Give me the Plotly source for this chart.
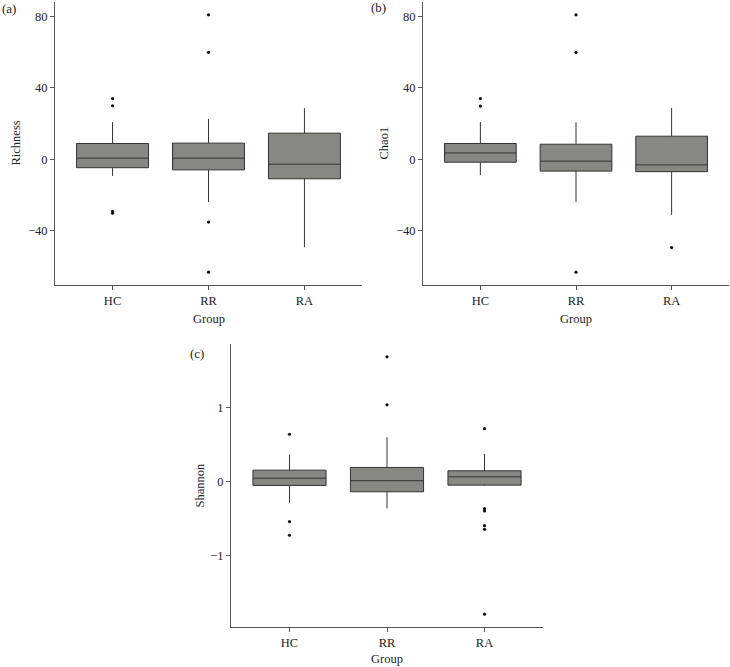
import plotly.graph_objects as go

groups = ["HC", "RR", "RA"]

# Panel (a) Richness
rich_q1 = [-4.8, -6.0, -11.0]
rich_med = [0.6, 0.6, -2.8]
rich_q3 = [8.8, 9.0, 14.6]
rich_lo = [-9.4, -24.0, -49.4]
rich_hi = [20.8, 22.6, 28.6]
rich_out_x = ["HC", "HC", "HC", "HC", "RR", "RR", "RR", "RR"]
rich_out_y = [34.0, 30.0, -29.3, -30.3, 81.0, 60.0, -35.3, -63.4]

# Panel (b) Chao1
chao_q1 = [-1.7, -6.7, -7.0]
chao_med = [3.5, -1.1, -3.2]
chao_q3 = [8.8, 8.4, 12.9]
chao_lo = [-9.0, -24.0, -31.3]
chao_hi = [20.9, 20.7, 28.8]
chao_out_x = ["HC", "HC", "RR", "RR", "RR", "RA"]
chao_out_y = [34.0, 29.8, 81.0, 60.0, -63.4, -49.6]

# Panel (c) Shannon
shan_q1 = [-0.054, -0.14, -0.05]
shan_med = [0.045, 0.01, 0.063]
shan_q3 = [0.153, 0.19, 0.145]
shan_lo = [-0.29, -0.365, -0.06]
shan_hi = [0.365, 0.60, 0.374]
shan_out_x = ["HC", "HC", "HC", "RR", "RR", "RA", "RA", "RA", "RA", "RA", "RA"]
shan_out_y = [0.64, -0.545, -0.73, 1.69, 1.04, 0.716, -0.37, -0.40, -0.60, -0.65, -1.80]

ticks_ab = [-40, 0, 40, 80]
ticks_c = [-1, 0, 1]

W, H = 730, 667
FILL = "#878784"
LINE = "#333333"
AXC = "#555555"
FONT = "Liberation Serif"

panels = [
    (rich_q1, rich_med, rich_q3, rich_lo, rich_hi, rich_out_x, rich_out_y, ticks_ab, ""),
    (chao_q1, chao_med, chao_q3, chao_lo, chao_hi, chao_out_x, chao_out_y, ticks_ab, "2"),
    (shan_q1, shan_med, shan_q3, shan_lo, shan_hi, shan_out_x, shan_out_y, ticks_c, "3"),
]

fig = go.Figure()
ranges = []
for q1, med, q3, lo, hi, ox, oy, tv, sfx in panels:
    fig.add_trace(go.Box(
        x=groups, q1=q1, median=med, q3=q3, lowerfence=lo, upperfence=hi,
        width=0.75, whiskerwidth=0, fillcolor=FILL,
        line=dict(color=LINE, width=1), boxpoints=False,
        xaxis="x" + sfx, yaxis="y" + sfx, showlegend=False,
    ))
    fig.add_trace(go.Scatter(
        x=ox, y=oy, mode="markers",
        marker=dict(color="#111111", size=3.2),
        xaxis="x" + sfx, yaxis="y" + sfx, showlegend=False,
    ))
    vmin = min(min(lo), min(oy))
    vmax = max(max(hi), max(oy))
    pad = (vmax - vmin) * 0.05
    ranges.append([vmin - pad, vmax + pad])

def px_x(a, b):
    return [a / W, b / W]

def px_y(top, bottom):
    return [1 - bottom / H, 1 - top / H]

common_x = dict(
    type="category", categoryorder="array", categoryarray=groups,
    range=[-0.6, 2.6], showline=True, linecolor=AXC, linewidth=1,
    ticks="outside", ticklen=4, tickcolor=AXC, showgrid=False, zeroline=False,
    tickfont=dict(family=FONT, size=12.5, color="#222222"),
)
common_y = dict(
    showline=True, linecolor=AXC, linewidth=1,
    ticks="outside", ticklen=4, tickcolor=AXC, showgrid=False, zeroline=False,
    tickfont=dict(family=FONT, size=12.5, color="#222222"),
)

fig.update_layout(
    width=W, height=H,
    margin=dict(l=0, r=0, t=0, b=0),
    paper_bgcolor="white", plot_bgcolor="white",
    xaxis=dict(common_x, domain=px_x(55, 362), anchor="y"),
    yaxis=dict(common_y, domain=px_y(2, 285), anchor="x", range=ranges[0], tickvals=ticks_ab),
    xaxis2=dict(common_x, domain=px_x(423, 729), anchor="y2"),
    yaxis2=dict(common_y, domain=px_y(2, 285), anchor="x2", range=ranges[1], tickvals=ticks_ab),
    xaxis3=dict(common_x, domain=px_x(231, 543), anchor="y3"),
    yaxis3=dict(common_y, domain=px_y(344, 627), anchor="x3", range=ranges[2], tickvals=ticks_c),
)

def ann(text, x, y, angle=0, size=12.5):
    fig.add_annotation(
        text=text, x=x / W, y=1 - y / H, xref="paper", yref="paper",
        showarrow=False, textangle=angle, xanchor="center", yanchor="middle",
        font=dict(family=FONT, size=size, color="#222222"),
    )

ann("(a)", 9, 9, size=13)
ann("(b)", 378, 8, size=13)
ann("(c)", 197, 353, size=13)
ann("Richness", 15, 143.5, angle=-90)
ann("Chao1", 383, 143.5, angle=-90)
ann("Shannon", 199, 485.5, angle=-90)
ann("Group", 208.5, 319)
ann("Group", 576, 319)
ann("Group", 387, 659)

# remove the page's default body margin so the figure sits at the window origin
fig.write_html(
    "out.html",
    config={"displayModeBar": False},
    post_script="document.body.style.margin='0';document.body.style.overflow='hidden';",
)
